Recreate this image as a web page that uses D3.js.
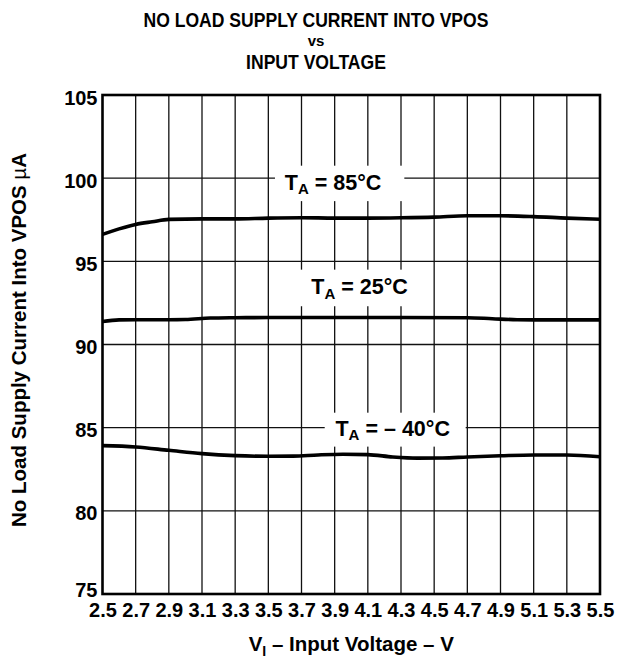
<!DOCTYPE html>
<html>
<head>
<meta charset="utf-8">
<script src="https://cdn.jsdelivr.net/npm/d3@7"></script>
<style>
  html, body { margin: 0; padding: 0; background: #fff; }
  svg { display: block; font-family: "Liberation Sans", Arial, Helvetica, sans-serif; font-weight: bold; }
</style>
</head>
<body>
<svg id="chart" width="630" height="658"></svg>
<script>
// Input voltage (V) sample points and supply current (µA) per ambient temperature
const voltHot = [2.5, 2.6, 2.7, 2.8, 2.9, 3.1, 3.3, 3.5, 3.7, 3.9, 4.1, 4.3, 4.5, 4.7, 4.9, 5.1, 5.3, 5.5];
const currentHot = [96.62, 96.95, 97.22, 97.38, 97.52, 97.55, 97.55, 97.6, 97.62, 97.6, 97.6, 97.62, 97.66, 97.74, 97.74, 97.69, 97.6, 97.53];

const voltRoom = [2.5, 2.6, 2.7, 2.9, 3.0, 3.15, 3.3, 3.5, 3.9, 4.3, 4.7, 4.85, 5.0, 5.1, 5.3, 5.5];
const currentRoom = [91.38, 91.48, 91.49, 91.49, 91.5, 91.59, 91.61, 91.62, 91.62, 91.62, 91.61, 91.55, 91.49, 91.48, 91.48, 91.48];

const voltCold = [2.5, 2.7, 2.9, 3.1, 3.3, 3.5, 3.65, 3.8, 3.95, 4.1, 4.25, 4.4, 4.55, 4.7, 4.9, 5.1, 5.3, 5.5];
const currentCold = [83.92, 83.84, 83.64, 83.44, 83.32, 83.28, 83.29, 83.36, 83.4, 83.38, 83.24, 83.17, 83.18, 83.24, 83.31, 83.36, 83.36, 83.25];

const xTicks = [2.5, 2.7, 2.9, 3.1, 3.3, 3.5, 3.7, 3.9, 4.1, 4.3, 4.5, 4.7, 4.9, 5.1, 5.3, 5.5];
const yTicks = [75, 80, 85, 90, 95, 100, 105];
const curveTemps = ["85°C", "25°C", "– 40°C"];

const svg = d3.select("#chart");
const plot = { left: 102.5, right: 600, top: 95, bottom: 594 };

const x = d3.scaleLinear().domain([2.5, 5.5]).range([plot.left, plot.right]);
const y = d3.scaleLinear().domain([75, 105]).range([plot.bottom, plot.top]);

// Title: tall bold caps set slightly condensed
const title = svg.append("g").attr("text-anchor", "middle").attr("fill", "#000");
function condensed(txt, yPos, size, squeeze) {
  const t = title.append("text").attr("x", 316).attr("y", yPos).attr("font-size", size).text(txt);
  const w = t.node().getComputedTextLength();
  t.attr("textLength", w * squeeze).attr("lengthAdjust", "spacingAndGlyphs");
  return t;
}
condensed("NO LOAD SUPPLY CURRENT INTO VPOS", 27, 19.5, 0.9);
title.append("text").attr("x", 316).attr("y", 46).attr("font-size", 15).text("vs");
condensed("INPUT VOLTAGE", 68.5, 19.5, 0.9);

// Grid
const grid = svg.append("g").attr("stroke", "#111").attr("stroke-width", 1.3);
grid.selectAll("line.v").data(xTicks.slice(1, -1)).join("line")
  .attr("x1", d => x(d)).attr("x2", d => x(d))
  .attr("y1", plot.top).attr("y2", plot.bottom);
grid.selectAll("line.h").data(yTicks.slice(1, -1)).join("line")
  .attr("x1", plot.left).attr("x2", plot.right)
  .attr("y1", d => y(d)).attr("y2", d => y(d));

// White panels behind the curve labels
const panels = [
  { v0: 3.54, v1: 4.32, i0: 100.75, i1: 98.62 },
  { v0: 3.64, v1: 4.42, i0: 94.5, i1: 92.3 },
  { v0: 3.84, v1: 4.69, i0: 85.9, i1: 83.86 }
];
svg.append("g").selectAll("rect").data(panels).join("rect")
  .attr("x", d => x(d.v0)).attr("width", d => x(d.v1) - x(d.v0))
  .attr("y", d => y(d.i0)).attr("height", d => y(d.i1) - y(d.i0))
  .attr("fill", "#fff");

// Curves
const series = [
  { v: voltHot, c: currentHot },
  { v: voltRoom, c: currentRoom },
  { v: voltCold, c: currentCold }
];
const line = d3.line().x(d => x(d[0])).y(d => y(d[1])).curve(d3.curveMonotoneX);
svg.append("g").selectAll("path").data(series).join("path")
  .attr("d", s => line(s.v.map((v, i) => [v, s.c[i]])))
  .attr("fill", "none").attr("stroke", "#000").attr("stroke-width", 3.6)
  .attr("stroke-linejoin", "round").attr("stroke-linecap", "butt");

// Curve labels
const labelPos = [
  { v: 3.89, i: 99.3 },
  { v: 4.05, i: 93.02 },
  { v: 4.25, i: 84.5 }
];
const labels = svg.append("g").attr("font-size", 21.5).attr("text-anchor", "middle");
labelPos.forEach((p, k) => {
  const t = labels.append("text").attr("x", x(p.v)).attr("y", y(p.i));
  t.append("tspan").text("T");
  t.append("tspan").attr("font-size", 15).attr("dy", 4.5).text("A");
  t.append("tspan").attr("dy", -4.5).text(" = " + curveTemps[k]);
});

// Frame
svg.append("rect")
  .attr("x", plot.left).attr("y", plot.top)
  .attr("width", plot.right - plot.left).attr("height", plot.bottom - plot.top)
  .attr("fill", "none").attr("stroke", "#000").attr("stroke-width", 2.6);

// Axes (tick labels only; the frame carries the lines)
const xAxis = d3.axisBottom(x).tickValues(xTicks).tickSize(0).tickPadding(0).tickFormat(d3.format(".1f"));
const gx = svg.append("g").attr("transform", `translate(0,${plot.bottom})`).call(xAxis);
gx.select(".domain").remove();
gx.selectAll("text").attr("font-size", 20).attr("font-family", null).attr("fill", "#000")
  .attr("dy", null).attr("y", 22.5);

const yAxis = d3.axisLeft(y).tickValues(yTicks).tickSize(0).tickPadding(5);
const gy = svg.append("g").attr("transform", `translate(${plot.left},0)`).call(yAxis);
gy.select(".domain").remove();
gy.selectAll("text").attr("font-size", 20).attr("font-family", null).attr("fill", "#000")
  .attr("dy", d => d === 75 ? "0.12em" : "0.45em");

// Axis titles
const xt = svg.append("text").attr("x", (plot.left + plot.right) / 2).attr("y", 651)
  .attr("font-size", 20.5).attr("text-anchor", "middle");
xt.append("tspan").text("V");
xt.append("tspan").attr("font-size", 14).attr("dy", 4.5).text("I");
xt.append("tspan").attr("dy", -4.5).text(" – Input Voltage – V");

const yt = svg.append("text").attr("transform", "translate(26,340) rotate(-90)")
  .attr("font-size", 20.5).attr("text-anchor", "middle");
yt.append("tspan").text("No Load Supply Current Into VPOS ");
yt.append("tspan").attr("font-weight", "normal").text("µ");
yt.append("tspan").text("A");
</script>
</body>
</html>
